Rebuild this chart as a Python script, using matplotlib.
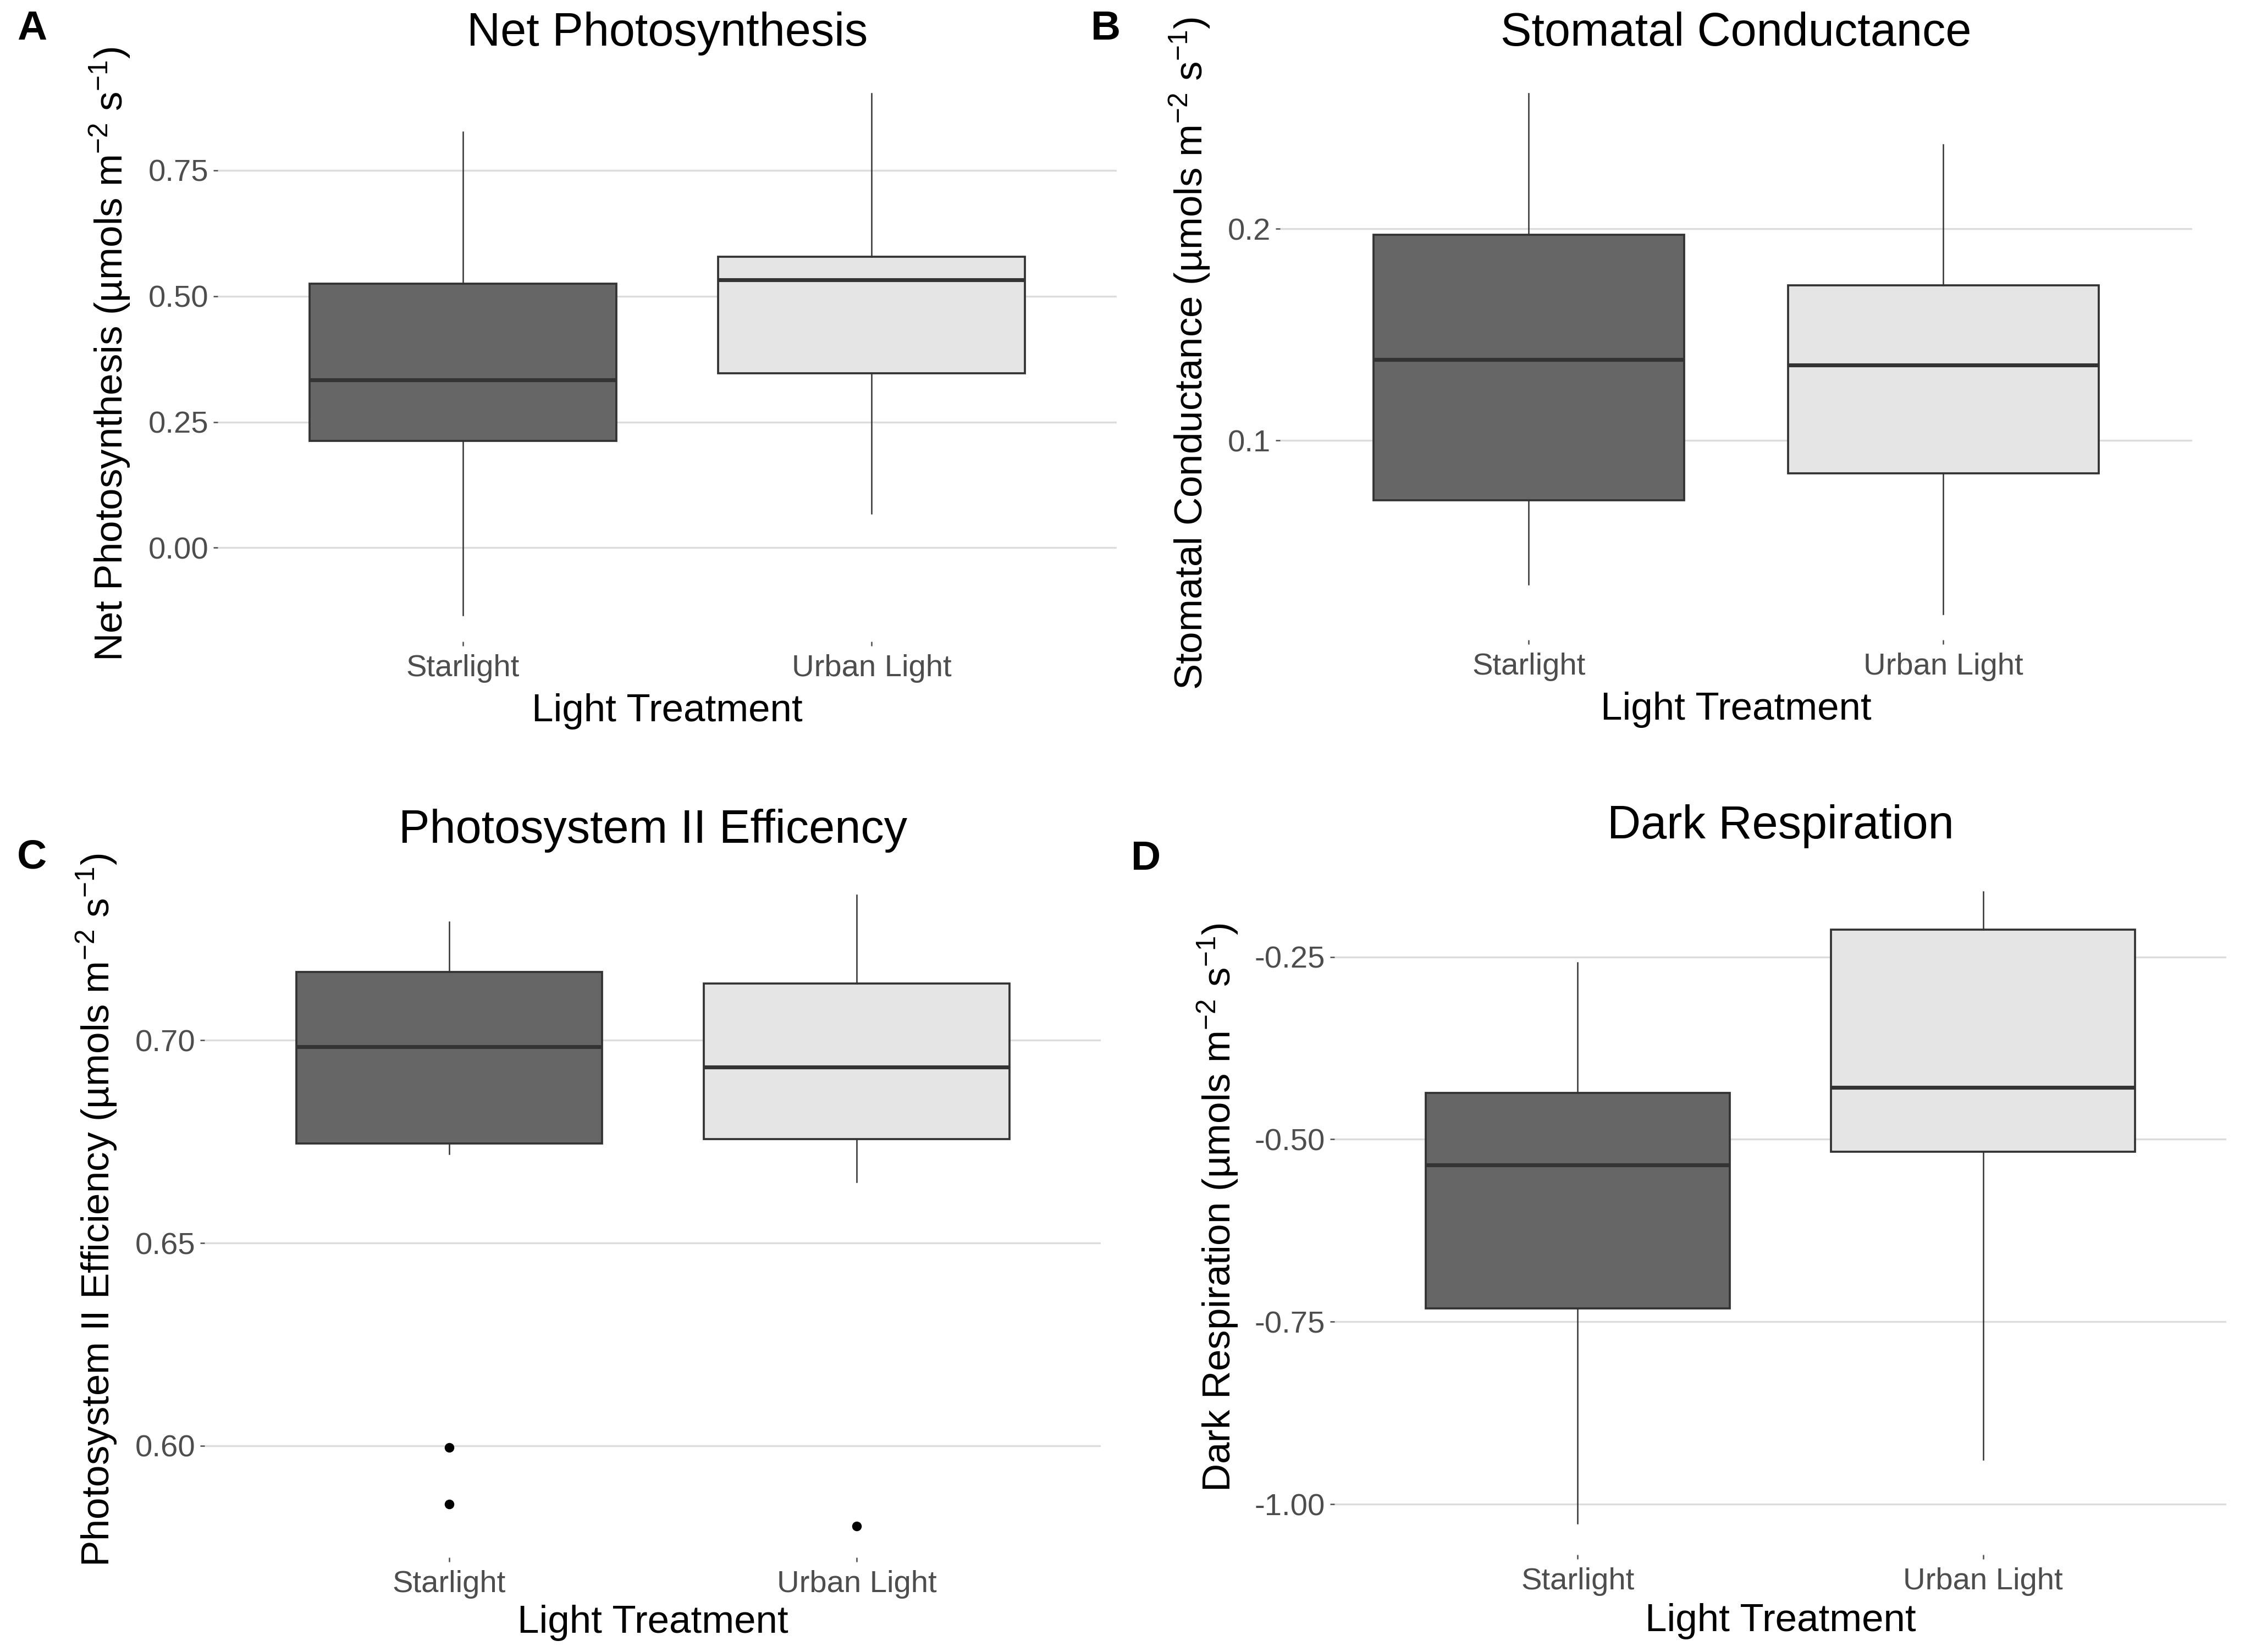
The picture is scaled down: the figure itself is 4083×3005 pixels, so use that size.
import matplotlib.pyplot as plt

plt.rcParams['font.family'] = ['Liberation Sans', 'DejaVu Sans']
plt.rcParams['mathtext.default'] = 'regular'
plt.rcParams['axes.unicode_minus'] = False

groups = ['Starlight', 'Urban Light']
box_fills = ['#666666', '#e5e5e5']

# A - net photosynthesis
photo_low = [-0.134, 0.068]
photo_q1 = [0.212, 0.347]
photo_med = [0.334, 0.533]
photo_q3 = [0.525, 0.578]
photo_high = [0.826, 0.903]
photo_out = [[], []]

# B - stomatal conductance
stom_low = [0.032, 0.018]
stom_q1 = [0.0716, 0.0845]
stom_med = [0.1381, 0.1356]
stom_q3 = [0.1972, 0.1732]
stom_high = [0.264, 0.2397]
stom_out = [[], []]

# C - photosystem II efficiency
psii_low = [0.672, 0.665]
psii_q1 = [0.6746, 0.6756]
psii_med = [0.6984, 0.6934]
psii_q3 = [0.7168, 0.714]
psii_high = [0.7292, 0.7359]
psii_out = [[0.5996, 0.5856], [0.5802]]

# D - dark respiration
resp_low = [-1.026, -0.939]
resp_q1 = [-0.732, -0.517]
resp_med = [-0.535, -0.429]
resp_q3 = [-0.4366, -0.2127]
resp_high = [-0.258, -0.161]
resp_out = [[], []]

W, H = 1568.0, 1154.0  # reference layout units


def make_stats(low, q1, med, q3, high, out):
    stats = []
    for i, g in enumerate(groups):
        stats.append(dict(label=g, whislo=low[i], q1=q1[i], med=med[i],
                          q3=q3[i], whishi=high[i], fliers=out[i]))
    return stats


def draw_panel(rect, stats, title, ylabel, yticks, yticklabels,
               ylab_x, xlab_y, title_pad, letter, letter_xy):
    left, right, top, bottom = rect
    ax = fig.add_axes([left / W, 1 - bottom / H, (right - left) / W, (bottom - top) / H])
    bp = ax.bxp(stats, positions=[1, 2], widths=0.75, patch_artist=True,
                showcaps=False,
                boxprops=dict(edgecolor='#333333', linewidth=0.9),
                whiskerprops=dict(color='#333333', linewidth=0.6),
                medianprops=dict(color='#333333', linewidth=1.7),
                flierprops=dict(marker='o', markersize=3.2, markerfacecolor='black',
                                markeredgecolor='black'))
    for patch, c in zip(bp['boxes'], box_fills):
        patch.set_facecolor(c)

    # ggplot-style 5% expansion around the data
    vals = []
    for s in stats:
        vals += [s['whislo'], s['whishi']] + list(s['fliers'])
    lo, hi = min(vals), max(vals)
    r = hi - lo
    ax.set_ylim(lo - 0.05 * r, hi + 0.05 * r)
    ax.set_xlim(0.4, 2.6)

    ax.set_yticks(yticks)
    ax.set_yticklabels(yticklabels)
    ax.set_xticks([1, 2])
    ax.set_xticklabels(groups)
    ax.tick_params(axis='both', colors='#4d4d4d', labelsize=13.5, length=2, width=0.6)
    ax.tick_params(axis='x', pad=3.5)
    ax.tick_params(axis='y', pad=2)
    ax.set_axisbelow(True)
    ax.yaxis.grid(True, color='#dcdcdc', linewidth=0.8)
    for sp in ax.spines.values():
        sp.set_visible(False)

    ax.set_title(title, fontsize=20.3, pad=title_pad)
    ax.set_ylabel(ylabel, fontsize=17)
    ax.yaxis.set_label_coords(ylab_x, 0.5)
    ax.set_xlabel('Light Treatment', fontsize=17)
    ax.xaxis.set_label_coords(0.5, xlab_y)

    fig.text(letter_xy[0] / W, 1 - letter_xy[1] / H, letter, fontsize=18,
             fontweight='bold', ha='left', va='center')
    return ax


fig = plt.figure(figsize=(4083 / 300, 3005 / 300), dpi=300)

draw_panel((152, 780, 47, 448), make_stats(photo_low, photo_q1, photo_med, photo_q3, photo_high, photo_out),
           'Net Photosynthesis', 'Net Photosynthesis (µmols m$^{-2}$ s$^{-1}$)',
           [0.0, 0.25, 0.5, 0.75], ['0.00', '0.25', '0.50', '0.75'],
           -0.0955, -0.09, 9.5, 'A', (12, 20))

draw_panel((894, 1531, 47, 447), make_stats(stom_low, stom_q1, stom_med, stom_q3, stom_high, stom_out),
           'Stomatal Conductance', 'Stomatal Conductance (µmols m$^{-2}$ s$^{-1}$)',
           [0.1, 0.2], ['0.1', '0.2'],
           -0.075, -0.09, 9.5, 'B', (762, 20))

draw_panel((143, 769, 603, 1088), make_stats(psii_low, psii_q1, psii_med, psii_q3, psii_high, psii_out),
           'Photosystem II Efficency', 'Photosystem II Efficiency (µmols m$^{-2}$ s$^{-1}$)',
           [0.60, 0.65, 0.70], ['0.60', '0.65', '0.70'],
           -0.096, -0.068, 9, 'C', (12, 599))

draw_panel((932, 1555, 601, 1086), make_stats(resp_low, resp_q1, resp_med, resp_q3, resp_high, resp_out),
           'Dark Respiration', 'Dark Respiration (µmols m$^{-2}$ s$^{-1}$)',
           [-1.0, -0.75, -0.5, -0.25], ['-1.00', '-0.75', '-0.50', '-0.25'],
           -0.106, -0.070, 9.5, 'D', (790, 600))

fig.savefig('out.png', dpi=300)
